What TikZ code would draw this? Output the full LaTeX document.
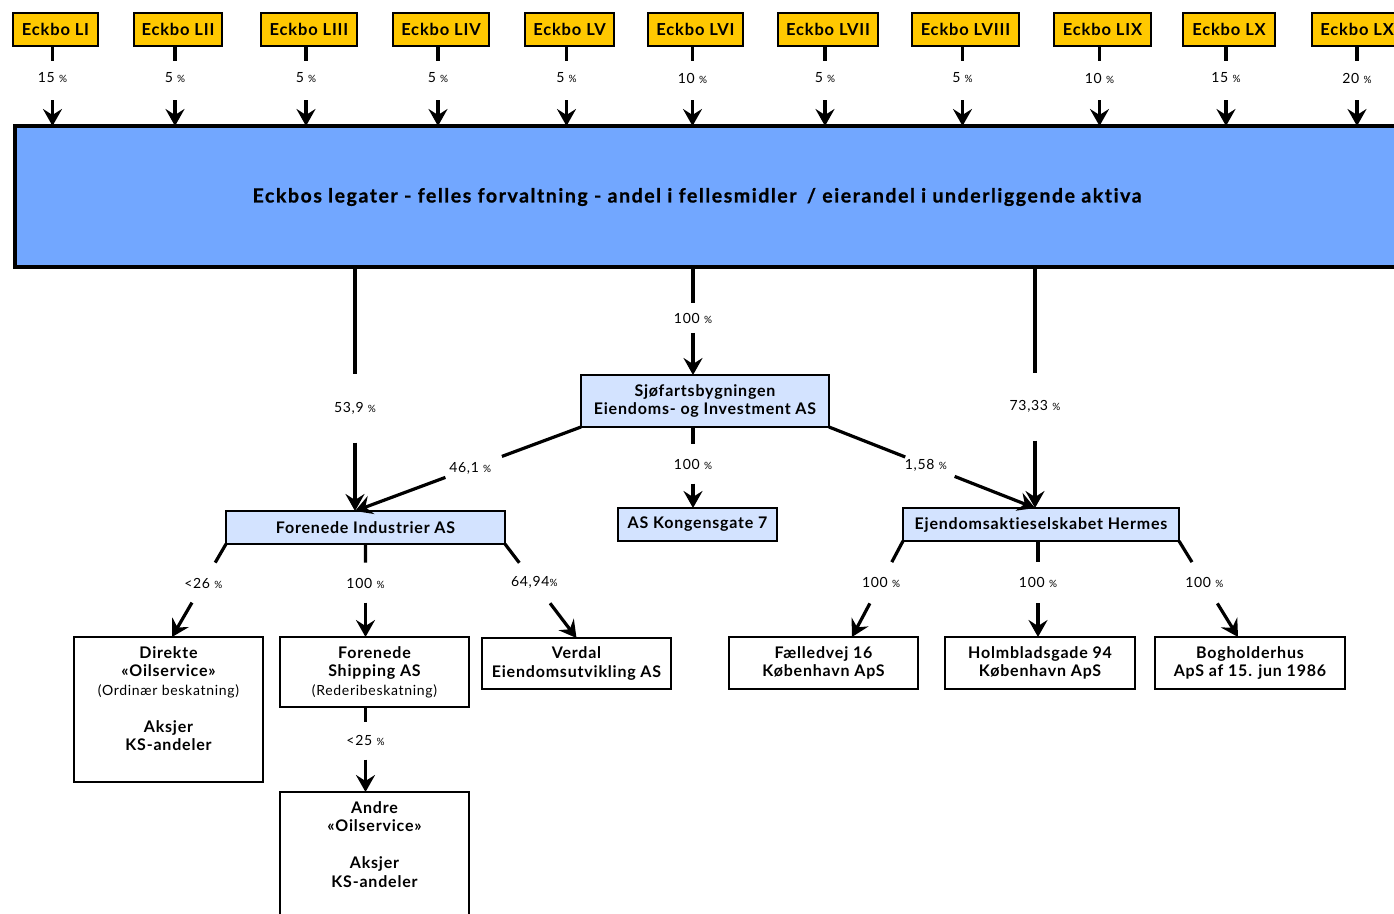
\documentclass[tikz,border=0pt]{standalone}
\usepackage{fontspec}
\setmainfont[LetterSpace=5,Ligatures=NoCommon]{Lato}
\usetikzlibrary{arrows.meta,calc}
\definecolor{ecyel}{HTML}{FFC800}
\definecolor{ecblue}{HTML}{72A7FF}
\definecolor{eclight}{HTML}{D3E3FF}
\newcommand\pcs{{\fontsize{10}{10}\selectfont\%}}
\newcommand\gapc[6]{%
  \draw[conn] (#1) -- ($(#1)!#4!(#2)$);
  \draw[arr] ($(#1)!#6!(#2)$) -- (#2);
  \node[pct] at ($(#1)!#5!(#2)$) {#3};}
\begin{document}
\begin{tikzpicture}[x=1pt,y=-1pt,
  every node/.style={outer sep=0},
  yel/.style={draw, line width=1.6, fill=ecyel, inner sep=0, minimum height=33, font=\bfseries\fontsize{16.5}{18}\selectfont},
  lb/.style={draw, line width=1.6, fill=eclight, inner sep=0, align=center, font=\bfseries\fontsize{16}{18.5}\selectfont},
  wb/.style={draw, line width=1.6, fill=white, inner sep=0, align=center, font=\bfseries\fontsize{16}{18.5}\selectfont},
  pct/.style={inner sep=0, font=\fontsize{14}{14}\selectfont},
  conn/.style={line width=3.2},
  arr/.style={conn, -{Stealth[length=17pt, width=19pt, inset=6pt]}},
]
\useasboundingbox (0,0) rectangle (1394,913);
% top boxes
\node[yel, minimum width=85]  (LI)    at (55.5,29.5) {Eckbo LI};
\node[yel, minimum width=88]  (LII)   at (178,29.5) {Eckbo LII};
\node[yel, minimum width=96]  (LIII)  at (309,29.5) {Eckbo LIII};
\node[yel, minimum width=96]  (LIV)   at (441,29.5) {Eckbo LIV};
\node[yel, minimum width=89]  (LV)    at (569.5,29.5) {Eckbo LV};
\node[yel, minimum width=95]  (LVI)   at (695.5,29.5) {Eckbo LVI};
\node[yel, minimum width=100] (LVII)  at (828,29.5) {Eckbo LVII};
\node[yel, minimum width=107] (LVIII) at (965.5,29.5) {Eckbo LVIII};
\node[yel, minimum width=97]  (LIX)   at (1102.5,29.5) {Eckbo LIX};
\node[yel, minimum width=92]  (LX)    at (1229,29.5) {Eckbo LX};
\node[yel, minimum width=96]  (LXI)   at (1360,29.5) {Eckbo LXI};
% big box
\node[draw, line width=3.5, fill=ecblue, minimum width=1395, minimum height=141, anchor=north west, inner sep=0] (big) at (15,126) {};
\node[font=\bfseries\fontsize{19.5}{20}\selectfont\addfontfeatures{LetterSpace=8,FakeBold=0.8}, inner sep=0] (title) at (697,197) {Eckbos legater - felles forvaltning - andel i fellesmidler\hspace{4pt} / eierandel i underliggende aktiva};
\foreach \n/\lab in {LI/15,LII/5,LIII/5,LIV/5,LV/5,LVI/10,LVII/5,LVIII/5,LIX/10,LX/15,LXI/20}{
  \coordinate (\n-s) at ([xshift=-3]\n.south);
  \coordinate (\n-e) at (\n-s |- big.north);
  \gapc{\n-s}{\n-e}{\lab\ \pcs}{0.19}{0.4}{0.68}
}
% second level
\node[lb, minimum width=248, minimum height=52] (sj) at (705,401) {Sjøfartsbygningen\\Eiendoms- og Investment AS};
\node[lb, minimum width=279, minimum height=33] (fi) at (365.5,527.5) {Forenede Industrier AS};
\node[lb, minimum width=159, minimum height=33] (kg) at (697.5,524.5) {AS Kongensgate 7};
\node[lb, minimum width=276, minimum height=33] (her) at (1041,524.5) {Ejendomsaktieselskabet Hermes};
% third level
\node[wb] (dir) at (168.5,709.5) {\parbox[c][145pt][t]{189pt}{\centering\rule{0pt}{21pt}Direkte\\«Oilservice»\\{\mdseries\fontsize{14}{18.5}\selectfont(Ordinær beskatning)}\\[18.5pt]Aksjer\\KS-andeler}};
\node[wb, minimum width=189, minimum height=70] (sh) at (374.5,672) {Forenede\\Shipping AS\\{\mdseries\fontsize{14}{18.5}\selectfont(Rederibeskatning)}};
\node[wb, minimum width=189, minimum height=51] (vd) at (576.5,663.5) {Verdal\\Eiendomsutvikling AS};
\node[wb] (an) at (374.5,866) {\parbox[c][148pt][t]{189pt}{\centering\rule{0pt}{21pt}Andre\\«Oilservice»\\[18.5pt]Aksjer\\KS-andeler}};
\node[wb, minimum width=189, minimum height=52] (fa) at (823.5,663) {Fælledvej 16\\København ApS};
\node[wb, minimum width=190, minimum height=52] (ho) at (1040,663) {Holmbladsgade 94\\København ApS};
\node[wb, minimum width=190, minimum height=52] (bg) at (1250,663) {Bogholderhus\\ApS af 15. jun 1986};
% connectors from big box
\coordinate (fiin) at ([xshift=-10.5]fi.north);
\coordinate (bigL) at (big.south -| fiin);
\gapc{bigL}{fiin}{53,9 \pcs}{0.44}{0.58}{0.72}
\coordinate (sjin) at ([xshift=-12]sj.north);
\coordinate (bigM) at (big.south -| sjin);
\gapc{bigM}{sjin}{100 \pcs}{0.33}{0.48}{0.61}
\coordinate (herin) at ([xshift=-6]her.north);
\coordinate (bigR) at (big.south -| herin);
\gapc{bigR}{herin}{73,33 \pcs}{0.44}{0.58}{0.72}
% from Sjofartsbygningen
\gapc{sj.south west}{fiin}{46,1 \pcs}{0.35}{0.49}{0.6}
\coordinate (kgin) at ([xshift=-4.5]kg.north);
\coordinate (sjb) at (sj.south -| kgin);
\gapc{sjb}{kgin}{100 \pcs}{0.21}{0.46}{0.7}
\gapc{sj.south east}{herin}{1,58 \pcs}{0.37}{0.47}{0.61}
% from Forenede Industrier
\coordinate (dirin) at ([xshift=3.5]dir.north);
\gapc{fi.south west}{dirin}{<26 \pcs}{0.2}{0.42}{0.63}
\coordinate (shin) at (fi.south |- sh.north);
\gapc{fi.south}{shin}{100 \pcs}{0.2}{0.42}{0.63}
\gapc{fi.south east}{vd.north}{64,94\pcs}{0.2}{0.41}{0.63}
\coordinate (shb) at (sh.south -| shin);
\coordinate (anin) at (an.north -| shin);
\gapc{shb}{anin}{<25 \pcs}{0.18}{0.39}{0.62}
% from Hermes
\coordinate (fain) at ([xshift=28.5]fa.north);
\gapc{her.south west}{fain}{100 \pcs}{0.22}{0.43}{0.65}
\coordinate (hoin) at ([xshift=-2]ho.north);
\coordinate (herb) at (her.south -| hoin);
\gapc{herb}{hoin}{100 \pcs}{0.22}{0.43}{0.65}
\coordinate (bgin) at ([xshift=-12]bg.north);
\gapc{her.south east}{bgin}{100 \pcs}{0.22}{0.43}{0.65}
\end{tikzpicture}
\end{document}
